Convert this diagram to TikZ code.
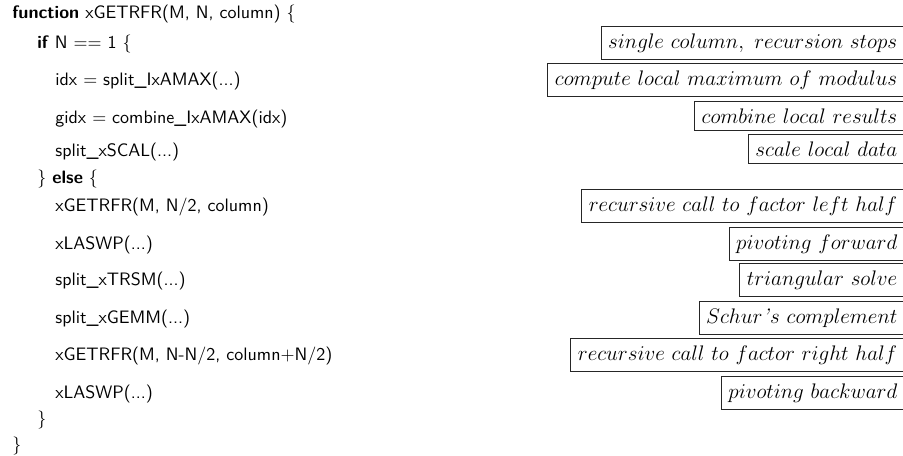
\documentclass[tikz,border=0pt]{standalone}
\begin{document}
\begin{tikzpicture}[x=0.5556pt, y=-0.5556pt,
  code/.style={font=\sffamily, inner sep=0pt, anchor=base west},
  note/.style={draw=black!85, line width=0.5pt, font=\large, inner sep=4.1pt, anchor=base east, transform shape, scale=0.975}]
\useasboundingbox (0,0) rectangle (903,456);
% code lines
\node[code] (l1)  at (12,18)   {\textbf{function} xGETRFR(M, N, column) $\{$};
\node[code] (l2)  at (37,48.5) {\textbf{if} N $==$ 1 $\{$};
\node[code] (l3)  at (55,85.5) {idx $=$ split\_IxAMAX(...)};
\node[code] (l4)  at (55,123)  {gidx $=$ combine\_IxAMAX(idx)};
\node[code] (l5)  at (55,156)  {split\_xSCAL(...)};
\node[code] (l6)  at (37,183)  {$\}$ \textbf{else} $\{$};
\node[code] (l7)  at (55,211)  {xGETRFR(M, N/2, column)};
\node[code] (l8)  at (55,249)  {xLASWP(...)};
\node[code] (l9)  at (55,285.5){split\_xTRSM(...)};
\node[code] (l10) at (55,323)  {split\_xGEMM(...)};
\node[code] (l11) at (55,360)  {xGETRFR(M, N-N/2, column$+$N/2)};
\node[code] (l12) at (55,398)  {xLASWP(...)};
\node[code] (l13) at (37,424)  {$\}$};
\node[code] (l14) at (12,450)  {$\}$};
% annotations
\node[note] (c1)  at (905,48.5)  {$single~column,~recursion~stops$};
\node[note] (c2)  at (905,85.5)  {$compute~local~maximum~of~modulus$};
\node[note] (c3)  at (905,123)   {$combine~local~results$};
\node[note] (c4)  at (905,156)   {$scale~local~data$};
\node[note] (c5)  at (905,211)   {$recursive~call~to~factor~left~half$};
\node[note] (c6)  at (905,249)   {$pivoting~forward$};
\node[note] (c7)  at (905,285.5) {$triangular~solve$};
\node[note] (c8)  at (905,323)   {$Schur$\textit{'}$s~complement$};
\node[note] (c9)  at (905,360)   {$recursive~call~to~factor~right~half$};
\node[note] (c10) at (905,398)   {$pivoting~backward$};
\end{tikzpicture}
\end{document}
